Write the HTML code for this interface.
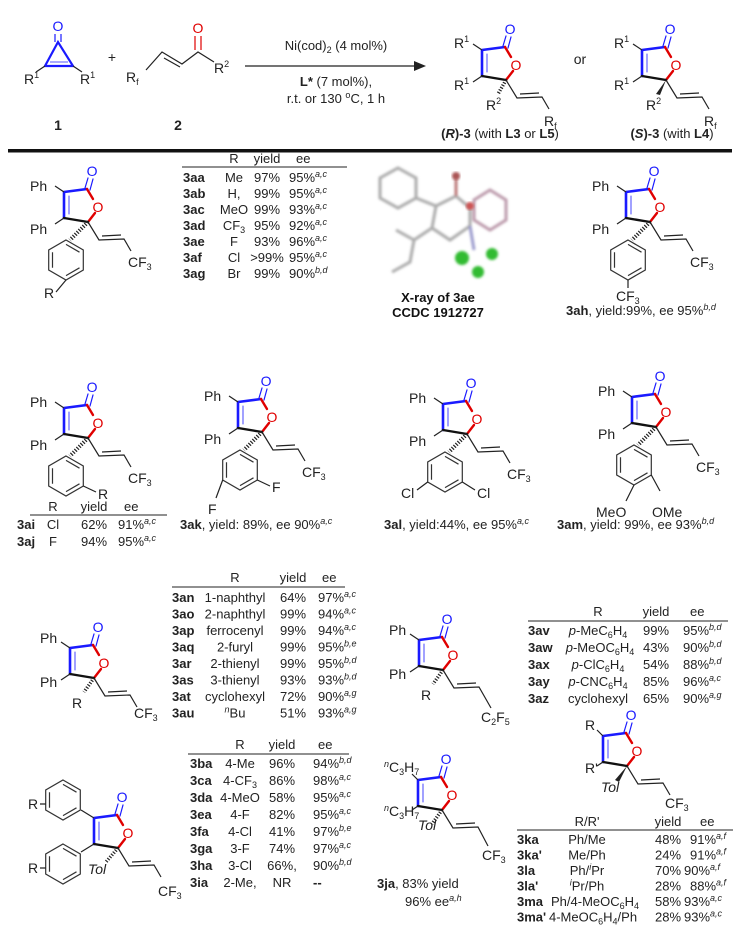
<!DOCTYPE html>
<html><head><meta charset="utf-8"><style>
html,body{margin:0;padding:0;background:#fff;}
svg{display:block;font-family:"Liberation Sans",Arial,sans-serif;}
.b{font-weight:bold;}
.s{font-size:9px;font-style:italic;}
</style></head><body>
<svg width="747" height="931" viewBox="0 0 747 931" xmlns="http://www.w3.org/2000/svg">
<defs>
<g id="c" fill="none" stroke-linecap="round">
<path d="M-24,-30 L-1,-33 M-24,-30 L-24,-4" stroke="#1a1aff" stroke-width="2.6"/>
<path d="M-19,-26 L-19,-8" stroke="#5555ff" stroke-width="1.1"/>
<path d="M-3,-34 L0,-44 M2,-32 L5,-43" stroke="#1a1aff" stroke-width="1.2"/>
<path d="M-1,-33 L5,-23 M7,-9 L0,0" stroke="#e00000" stroke-width="2.4"/>
<path d="M-24,-4 L0,0" stroke="#111" stroke-width="2.4"/>
</g>
<g id="p" fill="none" stroke="#222" stroke-width="1.2"><path d="M-24,-30 L-33,-36 M-24,-4 L-33,2"/></g>
<g id="v" fill="none" stroke="#222" stroke-width="1.2"><path d="M0,0 L11,18 L36,17 L43,29 M14,14 L33,13"/></g>
<g id="h" fill="none" stroke="#333" stroke-width="1.2"><polygon points="0,-20 17.3,-10 17.3,10 0,20 -17.3,10 -17.3,-10"/><path d="M0,-15.6 L13.5,-7.8 M13.5,7.8 L0,15.6 M-13.5,7.8 L-13.5,-7.8"/></g>
<line id="w" x1="0" y1="0" x2="-18" y2="18" stroke="#222" stroke-width="4" stroke-dasharray="1.2 1.6"/>
<filter id="bl"><feGaussianBlur stdDeviation="1.3"/></filter>
</defs>

<g font-size="14" fill="#222">
<text x="58" y="31" fill="#1a1aff" text-anchor="middle">O</text>
<path d="M55,34 L55,42 M61,34 L61,42" stroke="#1a1aff" stroke-width="1.2"/>
<path d="M58,42 L45,66 L73,66 Z" fill="none" stroke="#1a1aff" stroke-width="2.2"/>
<path d="M50,62 L68,62" stroke="#5555ff" stroke-width="1"/>
<path d="M45,66 L36,72 M73,66 L82,72" stroke="#222" stroke-width="1.2"/>
<text x="24" y="84">R<tspan font-size="9" dy="-6">1</tspan></text>
<text x="80" y="84">R<tspan font-size="9" dy="-6">1</tspan></text>
<text x="58" y="130" class="b" text-anchor="middle">1</text>
<text x="112" y="62" text-anchor="middle">+</text>
<text x="126" y="82">R<tspan font-size="9" dy="3">f</tspan></text>
<path d="M146,70 L162,52 L182,64 L198,52 L214,62 M164,58 L180,67" stroke="#222" stroke-width="1.2" fill="none"/>
<path d="M195,50 L195,36 M201,50 L201,36" stroke="#e00000" stroke-width="1.2"/>
<text x="198" y="33" fill="#e00000" text-anchor="middle">O</text>
<text x="214" y="73">R<tspan font-size="9" dy="-6">2</tspan></text>
<text x="178" y="130" class="b" text-anchor="middle">2</text>
<line x1="245" y1="66" x2="418" y2="66" stroke="#222" stroke-width="1.2"/>
<polygon points="426,66 414,61 414,71" fill="#222"/>
<text x="336" y="50" text-anchor="middle" font-size="13">Ni(cod)<tspan font-size="9" dy="3">2</tspan><tspan dy="-3"> (4 mol%)</tspan></text>
<text x="336" y="86" text-anchor="middle" font-size="13"><tspan class="b">L*</tspan> (7 mol%),</text>
<text x="336" y="103" text-anchor="middle" font-size="13">r.t. or 130 <tspan font-size="9" dy="-5">o</tspan><tspan dy="5">C, 1 h</tspan></text>
<g transform="translate(506,80)">
<use href="#c"/><use href="#p"/><use href="#v"/>
<line x1="0" y1="0" x2="-8" y2="14" stroke="#222" stroke-width="3.5" stroke-dasharray="1.2 1.6"/>
<text x="4" y="-46" fill="#1a1aff" text-anchor="middle">O</text>
<text x="10" y="-10" fill="#e00000" text-anchor="middle">O</text>
<text x="-52" y="-32">R<tspan font-size="9" dy="-6">1</tspan></text>
<text x="-52" y="10">R<tspan font-size="9" dy="-6">1</tspan></text>
<text x="-20" y="30">R<tspan font-size="9" dy="-6">2</tspan></text>
<text x="38" y="46">R<tspan font-size="9" dy="3">f</tspan></text>
</g>
<text x="500" y="138" text-anchor="middle" font-size="13"><tspan class="b">(</tspan><tspan class="b" font-style="italic">R</tspan><tspan class="b">)-3</tspan> (with <tspan class="b">L3</tspan> or <tspan class="b">L5</tspan>)</text>
<text x="580" y="64" text-anchor="middle">or</text>
<g transform="translate(666,80)">
<use href="#c"/><use href="#p"/><use href="#v"/>
<polygon points="0,0 -10,14 -6,15" fill="#222"/>
<text x="4" y="-46" fill="#1a1aff" text-anchor="middle">O</text>
<text x="10" y="-10" fill="#e00000" text-anchor="middle">O</text>
<text x="-52" y="-32">R<tspan font-size="9" dy="-6">1</tspan></text>
<text x="-52" y="10">R<tspan font-size="9" dy="-6">1</tspan></text>
<text x="-20" y="30">R<tspan font-size="9" dy="-6">2</tspan></text>
<text x="38" y="46">R<tspan font-size="9" dy="3">f</tspan></text>
</g>
<text x="672" y="138" text-anchor="middle" font-size="13"><tspan class="b">(</tspan><tspan class="b" font-style="italic">S</tspan><tspan class="b">)-3</tspan> (with <tspan class="b">L4</tspan>)</text>
<rect x="8" y="149" width="724" height="3.5" fill="#111"/>
</g>

<!-- 3aa -->
<g transform="translate(88,222)" font-size="14" fill="#222">
<use href="#c"/><use href="#p"/><use href="#v"/><use href="#w"/>
<use href="#h" x="-22" y="38"/>
<path d="M-22,58 L-32,70" stroke="#222" stroke-width="1.2"/>
<text x="4" y="-46" fill="#1a1aff" text-anchor="middle">O</text>
<text x="10" y="-10" fill="#e00000" text-anchor="middle">O</text>
<text x="-58" y="-31">Ph</text><text x="-58" y="12">Ph</text>
<text x="40" y="45">CF<tspan font-size="9" dy="3">3</tspan></text>
<text x="-44" y="76">R</text>
</g>
<g font-size="13" fill="#222">
<text x="234" y="163" text-anchor="middle">R</text><text x="267" y="163" text-anchor="middle">yield</text><text x="296" y="163">ee</text>
<line x1="182" y1="167" x2="347" y2="167" stroke="#222" stroke-width="1"/>
<text x="183" y="182" class="b">3aa</text><text x="234" y="182" text-anchor="middle">Me</text><text x="267" y="182" text-anchor="middle">97%</text><text x="289" y="182">95%<tspan class="s" dy="-5">a,c</tspan></text>
<text x="183" y="198" class="b">3ab</text><text x="234" y="198" text-anchor="middle">H,</text><text x="267" y="198" text-anchor="middle">99%</text><text x="289" y="198">95%<tspan class="s" dy="-5">a,c</tspan></text>
<text x="183" y="214" class="b">3ac</text><text x="234" y="214" text-anchor="middle">MeO</text><text x="267" y="214" text-anchor="middle">99%</text><text x="289" y="214">93%<tspan class="s" dy="-5">a,c</tspan></text>
<text x="183" y="230" class="b">3ad</text><text x="234" y="230" text-anchor="middle">CF<tspan font-size="9" dy="3">3</tspan></text><text x="267" y="230" text-anchor="middle">95%</text><text x="289" y="230">92%<tspan class="s" dy="-5">a,c</tspan></text>
<text x="183" y="246" class="b">3ae</text><text x="234" y="246" text-anchor="middle">F</text><text x="267" y="246" text-anchor="middle">93%</text><text x="289" y="246">96%<tspan class="s" dy="-5">a,c</tspan></text>
<text x="183" y="262" class="b">3af</text><text x="234" y="262" text-anchor="middle">Cl</text><text x="267" y="262" text-anchor="middle">&gt;99%</text><text x="289" y="262">95%<tspan class="s" dy="-5">a,c</tspan></text>
<text x="183" y="278" class="b">3ag</text><text x="234" y="278" text-anchor="middle">Br</text><text x="267" y="278" text-anchor="middle">99%</text><text x="289" y="278">90%<tspan class="s" dy="-5">b,d</tspan></text>
</g>

<!-- X-ray -->
<g filter="url(#bl)" fill="none" stroke="#aaa" stroke-width="3">
<polygon points="398,168 416,178 416,198 398,208 380,198 380,178"/>
<path d="M416,198 L436,206 L456,196 L470,208 M436,206 L432,228 L450,240 L470,226 L470,208"/>
<path d="M432,228 L414,240 L410,262 L392,272 M414,240 L396,230"/>
<polygon points="490,190 506,200 506,220 490,230 474,220 474,200" stroke="#b9a"/>
<path d="M470,226 L474,250" stroke="#99c"/>
<path d="M456,196 L456,178" stroke="#b77"/>
</g>
<g filter="url(#bl)" fill="#33bb33"><circle cx="462" cy="258" r="7"/><circle cx="492" cy="254" r="6"/><circle cx="478" cy="272" r="6"/></g>
<circle cx="470" cy="206" r="4" fill="#c55" filter="url(#bl)"/>
<circle cx="456" cy="176" r="4" fill="#a55" filter="url(#bl)"/>
<g font-size="13" fill="#111" text-anchor="middle" font-weight="bold">
<text x="438" y="302">X-ray of 3ae</text><text x="438" y="317">CCDC 1912727</text>
</g>

<!-- 3ah -->
<g transform="translate(650,222)" font-size="14" fill="#222">
<use href="#c"/><use href="#p"/><use href="#v"/><use href="#w"/>
<use href="#h" x="-22" y="38"/>
<path d="M-22,58 L-22,66" stroke="#222" stroke-width="1.2"/>
<text x="4" y="-46" fill="#1a1aff" text-anchor="middle">O</text>
<text x="10" y="-10" fill="#e00000" text-anchor="middle">O</text>
<text x="-58" y="-31">Ph</text><text x="-58" y="12">Ph</text>
<text x="40" y="45">CF<tspan font-size="9" dy="3">3</tspan></text>
<text x="-34" y="79">CF<tspan font-size="9" dy="3">3</tspan></text>
</g>
<text x="566" y="315" font-size="13" fill="#222"><tspan class="b">3ah</tspan>, yield:99%, ee 95%<tspan class="s" dy="-5">b,d</tspan></text>

<!-- 3ai -->
<g transform="translate(88,438)" font-size="14" fill="#222">
<use href="#c"/><use href="#p"/><use href="#v"/><use href="#w"/>
<use href="#h" x="-22" y="38"/>
<path d="M-4.7,48 L8,54" stroke="#222" stroke-width="1.2"/>
<text x="4" y="-46" fill="#1a1aff" text-anchor="middle">O</text>
<text x="10" y="-10" fill="#e00000" text-anchor="middle">O</text>
<text x="-58" y="-31">Ph</text><text x="-58" y="12">Ph</text>
<text x="40" y="45">CF<tspan font-size="9" dy="3">3</tspan></text>
<text x="10" y="61">R</text>
</g>
<g font-size="13" fill="#222">
<text x="53" y="511" text-anchor="middle">R</text><text x="94" y="511" text-anchor="middle">yield</text><text x="124" y="511">ee</text>
<line x1="30" y1="515" x2="167" y2="515" stroke="#222"/>
<text x="17" y="529" class="b">3ai</text><text x="53" y="529" text-anchor="middle">Cl</text><text x="94" y="529" text-anchor="middle">62%</text><text x="118" y="529">91%<tspan class="s" dy="-5">a,c</tspan></text>
<text x="17" y="546" class="b">3aj</text><text x="53" y="546" text-anchor="middle">F</text><text x="94" y="546" text-anchor="middle">94%</text><text x="118" y="546">95%<tspan class="s" dy="-5">a,c</tspan></text>
</g>

<!-- 3ak -->
<g transform="translate(262,432)" font-size="14" fill="#222">
<use href="#c"/><use href="#p"/><use href="#v"/><use href="#w"/>
<use href="#h" x="-22" y="38"/>
<path d="M-4.7,48 L8,54 M-39.3,48 L-46,66" stroke="#222" stroke-width="1.2"/>
<text x="4" y="-46" fill="#1a1aff" text-anchor="middle">O</text>
<text x="10" y="-10" fill="#e00000" text-anchor="middle">O</text>
<text x="-58" y="-31">Ph</text><text x="-58" y="12">Ph</text>
<text x="40" y="45">CF<tspan font-size="9" dy="3">3</tspan></text>
<text x="10" y="60">F</text><text x="-54" y="82">F</text>
</g>
<!-- 3al -->
<g transform="translate(467,434)" font-size="14" fill="#222">
<use href="#c"/><use href="#p"/><use href="#v"/><use href="#w"/>
<use href="#h" x="-22" y="38"/>
<path d="M-4.7,48 L8,56 M-39.3,48 L-50,56" stroke="#222" stroke-width="1.2"/>
<text x="4" y="-46" fill="#1a1aff" text-anchor="middle">O</text>
<text x="10" y="-10" fill="#e00000" text-anchor="middle">O</text>
<text x="-58" y="-31">Ph</text><text x="-58" y="12">Ph</text>
<text x="40" y="45">CF<tspan font-size="9" dy="3">3</tspan></text>
<text x="10" y="64">Cl</text><text x="-66" y="64">Cl</text>
</g>
<!-- 3am -->
<g transform="translate(656,427)" font-size="14" fill="#222">
<use href="#c"/><use href="#p"/><use href="#v"/><use href="#w"/>
<use href="#h" x="-22" y="38"/>
<path d="M-22,58 L-30,74 M-4.7,48 L4,64" stroke="#222" stroke-width="1.2"/>
<text x="4" y="-46" fill="#1a1aff" text-anchor="middle">O</text>
<text x="10" y="-10" fill="#e00000" text-anchor="middle">O</text>
<text x="-58" y="-31">Ph</text><text x="-58" y="12">Ph</text>
<text x="40" y="45">CF<tspan font-size="9" dy="3">3</tspan></text>
<text x="-60" y="90">MeO</text><text x="-4" y="90">OMe</text>
</g>
<g font-size="13" fill="#222">
<text x="180" y="529"><tspan class="b">3ak</tspan>, yield: 89%, ee 90%<tspan class="s" dy="-5">a,c</tspan></text>
<text x="384" y="529"><tspan class="b">3al</tspan>, yield:44%, ee 95%<tspan class="s" dy="-5">a,c</tspan></text>
<text x="557" y="529"><tspan class="b">3am</tspan>, yield: 99%, ee 93%<tspan class="s" dy="-5">b,d</tspan></text>
</g>

<!-- 3an -->
<g transform="translate(94,678)" font-size="14" fill="#222">
<use href="#c"/><use href="#p"/><use href="#v"/>
<line x1="0" y1="0" x2="-10" y2="14" stroke="#222" stroke-width="3.5" stroke-dasharray="1.2 1.6"/>
<text x="4" y="-46" fill="#1a1aff" text-anchor="middle">O</text>
<text x="10" y="-10" fill="#e00000" text-anchor="middle">O</text>
<text x="-54" y="-35">Ph</text><text x="-54" y="9">Ph</text>
<text x="40" y="40">CF<tspan font-size="9" dy="3">3</tspan></text>
<text x="-22" y="30">R</text>
</g>
<g font-size="13" fill="#222">
<text x="235" y="582" text-anchor="middle">R</text><text x="293" y="582" text-anchor="middle">yield</text><text x="322" y="582">ee</text>
<line x1="172" y1="587" x2="345" y2="587" stroke="#222"/>
<text x="172" y="602" class="b">3an</text><text x="235" y="602" text-anchor="middle">1-naphthyl</text><text x="293" y="602" text-anchor="middle">64%</text><text x="318" y="602">97%<tspan class="s" dy="-5">a,c</tspan></text>
<text x="172" y="618.5" class="b">3ao</text><text x="235" y="618.5" text-anchor="middle">2-naphthyl</text><text x="293" y="618.5" text-anchor="middle">99%</text><text x="318" y="618.5">94%<tspan class="s" dy="-5">a,c</tspan></text>
<text x="172" y="635" class="b">3ap</text><text x="235" y="635" text-anchor="middle">ferrocenyl</text><text x="293" y="635" text-anchor="middle">99%</text><text x="318" y="635">94%<tspan class="s" dy="-5">a,c</tspan></text>
<text x="172" y="651.5" class="b">3aq</text><text x="235" y="651.5" text-anchor="middle">2-furyl</text><text x="293" y="651.5" text-anchor="middle">99%</text><text x="318" y="651.5">95%<tspan class="s" dy="-5">b,e</tspan></text>
<text x="172" y="668" class="b">3ar</text><text x="235" y="668" text-anchor="middle">2-thienyl</text><text x="293" y="668" text-anchor="middle">99%</text><text x="318" y="668">95%<tspan class="s" dy="-5">b,d</tspan></text>
<text x="172" y="684.5" class="b">3as</text><text x="235" y="684.5" text-anchor="middle">3-thienyl</text><text x="293" y="684.5" text-anchor="middle">93%</text><text x="318" y="684.5">93%<tspan class="s" dy="-5">b,d</tspan></text>
<text x="172" y="701" class="b">3at</text><text x="235" y="701" text-anchor="middle">cyclohexyl</text><text x="293" y="701" text-anchor="middle">72%</text><text x="318" y="701">90%<tspan class="s" dy="-5">a,g</tspan></text>
<text x="172" y="717.5" class="b">3au</text><text x="235" y="717.5" text-anchor="middle"><tspan class="s" dy="-5">n</tspan><tspan dy="5">Bu</tspan></text><text x="293" y="717.5" text-anchor="middle">51%</text><text x="318" y="717.5">93%<tspan class="s" dy="-5">a,g</tspan></text>
</g>

<!-- 3av -->
<g transform="translate(443,670)" font-size="14" fill="#222">
<use href="#c"/><use href="#p"/>
<path d="M0,0 L11,18 L36,17 L48,38 M14,14 L33,13" fill="none" stroke="#222" stroke-width="1.2"/>
<line x1="0" y1="0" x2="-10" y2="14" stroke="#222" stroke-width="3.5" stroke-dasharray="1.2 1.6"/>
<text x="4" y="-46" fill="#1a1aff" text-anchor="middle">O</text>
<text x="10" y="-10" fill="#e00000" text-anchor="middle">O</text>
<text x="-54" y="-35">Ph</text><text x="-54" y="9">Ph</text>
<text x="38" y="52">C<tspan font-size="9" dy="3">2</tspan><tspan dy="-3">F</tspan><tspan font-size="9" dy="3">5</tspan></text>
<text x="-22" y="30">R</text>
</g>
<g font-size="13" fill="#222">
<text x="598" y="616" text-anchor="middle">R</text><text x="656" y="616" text-anchor="middle">yield</text><text x="690" y="616">ee</text>
<line x1="528" y1="621" x2="728" y2="621" stroke="#222"/>
<text x="528" y="635" class="b">3av</text><text x="598" y="635" text-anchor="middle"><tspan font-style="italic">p</tspan>-MeC<tspan font-size="9" dy="3">6</tspan><tspan dy="-3">H</tspan><tspan font-size="9" dy="3">4</tspan></text><text x="656" y="635" text-anchor="middle">99%</text><text x="683" y="635">95%<tspan class="s" dy="-5">b,d</tspan></text>
<text x="528" y="652" class="b">3aw</text><text x="600" y="652" text-anchor="middle"><tspan font-style="italic">p</tspan>-MeOC<tspan font-size="9" dy="3">6</tspan><tspan dy="-3">H</tspan><tspan font-size="9" dy="3">4</tspan></text><text x="656" y="652" text-anchor="middle">43%</text><text x="683" y="652">90%<tspan class="s" dy="-5">b,d</tspan></text>
<text x="528" y="669" class="b">3ax</text><text x="598" y="669" text-anchor="middle"><tspan font-style="italic">p</tspan>-ClC<tspan font-size="9" dy="3">6</tspan><tspan dy="-3">H</tspan><tspan font-size="9" dy="3">4</tspan></text><text x="656" y="669" text-anchor="middle">54%</text><text x="683" y="669">88%<tspan class="s" dy="-5">b,d</tspan></text>
<text x="528" y="686" class="b">3ay</text><text x="598" y="686" text-anchor="middle"><tspan font-style="italic">p</tspan>-CNC<tspan font-size="9" dy="3">6</tspan><tspan dy="-3">H</tspan><tspan font-size="9" dy="3">4</tspan></text><text x="656" y="686" text-anchor="middle">85%</text><text x="683" y="686">96%<tspan class="s" dy="-5">a,c</tspan></text>
<text x="528" y="703" class="b">3az</text><text x="598" y="703" text-anchor="middle">cyclohexyl</text><text x="656" y="703" text-anchor="middle">65%</text><text x="683" y="703">90%<tspan class="s" dy="-5">a,g</tspan></text>
</g>

<!-- 3ba -->
<g transform="translate(118,848)" font-size="14" fill="#222">
<use href="#c"/><use href="#v"/>
<line x1="0" y1="0" x2="-12" y2="14" stroke="#222" stroke-width="3.5" stroke-dasharray="1.2 1.6"/>
<path d="M-24,-30 L-37,-38 M-24,-4 L-37,4" stroke="#222" stroke-width="1.2"/>
<use href="#h" x="-55" y="-48"/>
<use href="#h" x="-55" y="16"/>
<path d="M-72,-44 L-78,-44 M-72,20 L-78,20" stroke="#222" stroke-width="1.2"/>
<text x="4" y="-46" fill="#1a1aff" text-anchor="middle">O</text>
<text x="10" y="-10" fill="#e00000" text-anchor="middle">O</text>
<text x="-90" y="-39">R</text><text x="-90" y="25">R</text>
<text x="-30" y="26" font-style="italic">Tol</text>
<text x="40" y="48">CF<tspan font-size="9" dy="3">3</tspan></text>
</g>
<g font-size="13" fill="#222">
<text x="240" y="749" text-anchor="middle">R</text><text x="282" y="749" text-anchor="middle">yield</text><text x="318" y="749">ee</text>
<line x1="188" y1="754" x2="349" y2="754" stroke="#222"/>
<text x="190" y="768" class="b">3ba</text><text x="240" y="768" text-anchor="middle">4-Me</text><text x="282" y="768" text-anchor="middle">96%</text><text x="313" y="768">94%<tspan class="s" dy="-5">b,d</tspan></text>
<text x="190" y="785" class="b">3ca</text><text x="240" y="785" text-anchor="middle">4-CF<tspan font-size="9" dy="3">3</tspan></text><text x="282" y="785" text-anchor="middle">86%</text><text x="313" y="785">98%<tspan class="s" dy="-5">a,c</tspan></text>
<text x="190" y="802" class="b">3da</text><text x="240" y="802" text-anchor="middle">4-MeO</text><text x="282" y="802" text-anchor="middle">58%</text><text x="313" y="802">95%<tspan class="s" dy="-5">a,c</tspan></text>
<text x="190" y="819" class="b">3ea</text><text x="240" y="819" text-anchor="middle">4-F</text><text x="282" y="819" text-anchor="middle">82%</text><text x="313" y="819">95%<tspan class="s" dy="-5">a,c</tspan></text>
<text x="190" y="836" class="b">3fa</text><text x="240" y="836" text-anchor="middle">4-Cl</text><text x="282" y="836" text-anchor="middle">41%</text><text x="313" y="836">97%<tspan class="s" dy="-5">b,e</tspan></text>
<text x="190" y="853" class="b">3ga</text><text x="240" y="853" text-anchor="middle">3-F</text><text x="282" y="853" text-anchor="middle">74%</text><text x="313" y="853">97%<tspan class="s" dy="-5">a,c</tspan></text>
<text x="190" y="870" class="b">3ha</text><text x="240" y="870" text-anchor="middle">3-Cl</text><text x="282" y="870" text-anchor="middle">66%,</text><text x="313" y="870">90%<tspan class="s" dy="-5">b,d</tspan></text>
<text x="190" y="887" class="b">3ia</text><text x="240" y="887" text-anchor="middle">2-Me,</text><text x="282" y="887" text-anchor="middle">NR</text><text x="313" y="887" class="b">--</text>
</g>

<!-- 3ja -->
<g transform="translate(442,810)" font-size="14" fill="#222">
<use href="#c"/>
<path d="M0,0 L11,18 L36,17 L46,36 M14,14 L33,13" fill="none" stroke="#222" stroke-width="1.2"/>
<line x1="0" y1="0" x2="-10" y2="14" stroke="#222" stroke-width="3.5" stroke-dasharray="1.2 1.6"/>
<path d="M-24,-30 L-30,-36 M-24,-4 L-30,0" stroke="#222" stroke-width="1.2"/>
<text x="4" y="-46" fill="#1a1aff" text-anchor="middle">O</text>
<text x="10" y="-10" fill="#e00000" text-anchor="middle">O</text>
<text x="-58" y="-38"><tspan class="s" dy="-5">n</tspan><tspan dy="5">C</tspan><tspan font-size="9" dy="3">3</tspan><tspan dy="-3">H</tspan><tspan font-size="9" dy="3">7</tspan></text>
<text x="-58" y="6"><tspan class="s" dy="-5">n</tspan><tspan dy="5">C</tspan><tspan font-size="9" dy="3">3</tspan><tspan dy="-3">H</tspan><tspan font-size="9" dy="3">7</tspan></text>
<text x="-24" y="20" font-style="italic">Tol</text>
<text x="40" y="50">CF<tspan font-size="9" dy="3">3</tspan></text>
</g>
<g font-size="13" fill="#222">
<text x="377" y="888"><tspan class="b">3ja</tspan>, 83% yield</text>
<text x="405" y="906">96% ee<tspan class="s" dy="-5">a,h</tspan></text>
</g>

<!-- 3ka -->
<g transform="translate(627,766)" font-size="14" fill="#222">
<use href="#c"/><use href="#v"/>
<polygon points="0,0 -12,14 -8,16" fill="#222"/>
<path d="M-24,-30 L-30,-36 M-24,-4 L-30,0" stroke="#222" stroke-width="1.2"/>
<text x="4" y="-46" fill="#1a1aff" text-anchor="middle">O</text>
<text x="10" y="-10" fill="#e00000" text-anchor="middle">O</text>
<text x="-42" y="-36">R</text><text x="-42" y="7">R'</text>
<text x="-26" y="26" font-style="italic">Tol</text>
<text x="38" y="42">CF<tspan font-size="9" dy="3">3</tspan></text>
</g>
<g font-size="13" fill="#222">
<text x="587" y="826" text-anchor="middle">R/R'</text><text x="668" y="826" text-anchor="middle">yield</text><text x="700" y="826">ee</text>
<line x1="517" y1="830" x2="733" y2="830" stroke="#222"/>
<text x="517" y="844" class="b">3ka</text><text x="587" y="844" text-anchor="middle">Ph/Me</text><text x="668" y="844" text-anchor="middle">48%</text><text x="690" y="844">91%<tspan class="s" dy="-5">a,f</tspan></text>
<text x="517" y="859.5" class="b">3ka'</text><text x="587" y="859.5" text-anchor="middle">Me/Ph</text><text x="668" y="859.5" text-anchor="middle">24%</text><text x="690" y="859.5">91%<tspan class="s" dy="-5">a,f</tspan></text>
<text x="517" y="875" class="b">3la</text><text x="587" y="875" text-anchor="middle">Ph/<tspan class="s" dy="-5">i</tspan><tspan dy="5">Pr</tspan></text><text x="668" y="875" text-anchor="middle">70%</text><text x="684" y="875">90%<tspan class="s" dy="-5">a,f</tspan></text>
<text x="517" y="890.5" class="b">3la'</text><text x="587" y="890.5" text-anchor="middle"><tspan class="s" dy="-5">i</tspan><tspan dy="5">Pr/Ph</tspan></text><text x="668" y="890.5" text-anchor="middle">28%</text><text x="690" y="890.5">88%<tspan class="s" dy="-5">a,f</tspan></text>
<text x="517" y="906" class="b">3ma</text><text x="551" y="906">Ph/4-MeOC<tspan font-size="9" dy="3">6</tspan><tspan dy="-3">H</tspan><tspan font-size="9" dy="3">4</tspan></text><text x="668" y="906" text-anchor="middle">58%</text><text x="684" y="906">93%<tspan class="s" dy="-5">a,c</tspan></text>
<text x="517" y="921.5" class="b">3ma'</text><text x="549" y="921.5">4-MeOC<tspan font-size="9" dy="3">6</tspan><tspan dy="-3">H</tspan><tspan font-size="9" dy="3">4</tspan><tspan dy="-3">/Ph</tspan></text><text x="668" y="921.5" text-anchor="middle">28%</text><text x="684" y="921.5">93%<tspan class="s" dy="-5">a,c</tspan></text>
</g>
</svg>
</body></html>
